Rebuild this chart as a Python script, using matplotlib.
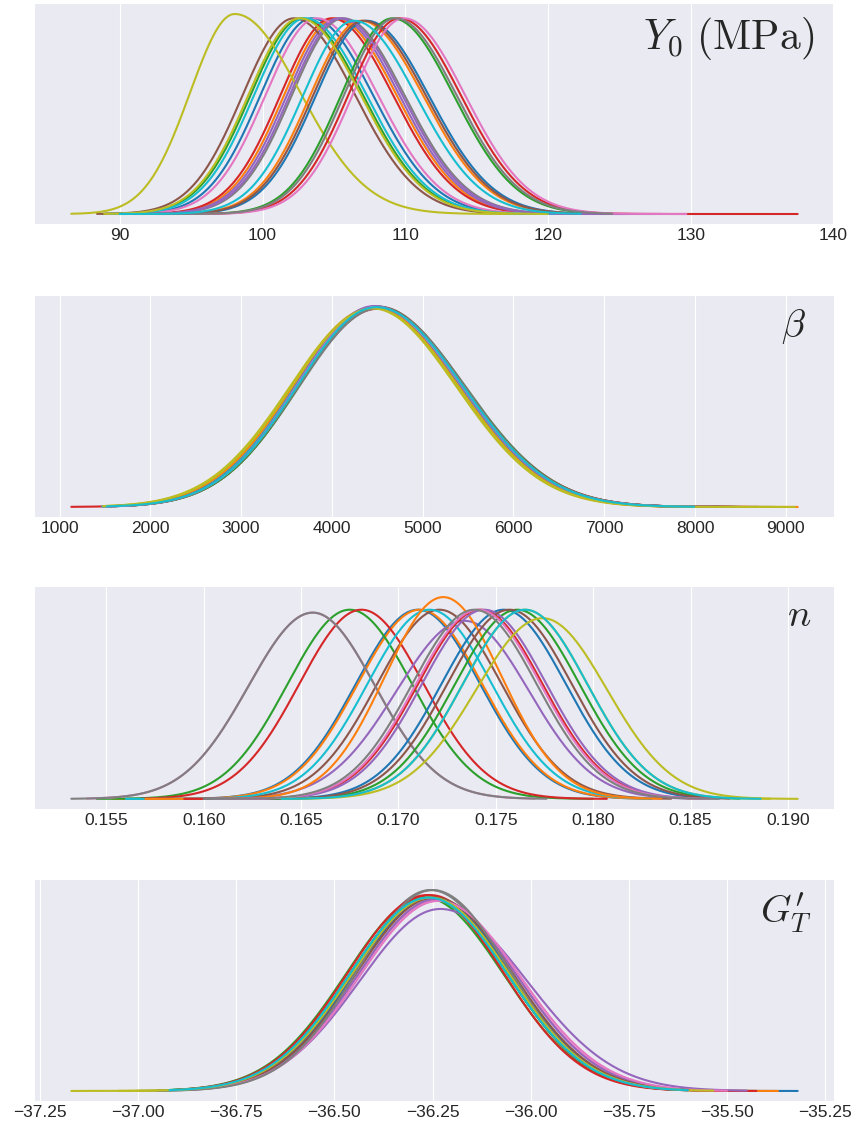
import numpy as np
import matplotlib.pyplot as plt

plt.style.use('seaborn-v0_8-darkgrid')
plt.rcParams['mathtext.fontset'] = 'cm'

# ---- Panel 1: Y0 (MPa) : per-chain mode, left/right spread, sample range ----
y0_mode = [103.45, 105.1, 102.75, 104.85, 105.3, 102.2, 103.8, 105.65, 98.05, 103.0,
           107.3, 106.9, 109.1, 109.6, 105.5, 107.1, 109.9, 109.3, 102.6, 106.4]
y0_slo = [3.6] * 8 + [3.13, 3.6] + [3.6] * 10
y0_shi = [4.3] * 8 + [4.6, 4.3] + [4.4, 4.4, 4.3, 4.3, 4.3, 4.4, 4.3, 4.3, 4.3, 4.4]
y0_lo = [89.0, 89.3, 88.8, 89.6, 89.8, 88.4, 89.2, 90.2, 86.6, 89.3,
         91.0, 90.8, 93.0, 94.0, 90.5, 91.5, 93.5, 92.5, 88.9, 90.0]
y0_hi = [121.0, 121.5, 119.5, 121.0, 123.0, 119.0, 125.7, 121.8, 118.0, 120.5,
         122.0, 122.5, 123.5, 137.5, 128.0, 122.0, 129.7, 124.5, 120.0, 122.3]

# ---- Panel 2: beta ----
b_mode = [4470, 4460, 4490, 4500, 4480, 4510, 4490, 4520, 4440, 4470,
          4480, 4450, 4500, 4490, 4470, 4500, 4480, 4510, 4450, 4490]
b_slo = [870, 880, 860, 875, 865, 870, 860, 880, 900, 870,
         870, 885, 865, 870, 860, 875, 865, 880, 895, 870]
b_shi = [950, 940, 955, 960, 950, 945, 960, 950, 930, 945,
         950, 940, 955, 955, 950, 950, 955, 945, 935, 950]
b_lo = [1480, 1700, 1600, 1130, 1550, 1800, 1650, 1750, 1500, 1470,
        1600, 1900, 1700, 1550, 1620, 1750, 1600, 1800, 1480, 1520]
b_hi = [8300, 9130, 8200, 8700, 8400, 8500, 8300, 8850, 9100, 8000,
        8100, 8600, 8250, 8400, 8300, 8450, 8200, 8500, 8900, 7990]

# ---- Panel 3: n ----
n_mode = [0.1710, 0.1711, 0.1675, 0.1681, 0.1734, 0.1721, 0.1656, 0.1656, 0.1765, 0.1716,
          0.1754, 0.1723, 0.1761, 0.1742, 0.1744, 0.1757, 0.1741, 0.1739, 0.1774, 0.1765]
n_slo = [0.0032, 0.0032, 0.0032, 0.0032, 0.0035, 0.0032, 0.0033, 0.0033, 0.0032, 0.0032,
         0.0032, 0.0030, 0.0032, 0.0032, 0.0032, 0.0032, 0.0032, 0.0032, 0.0034, 0.0032]
n_shi = [0.0032, 0.0032, 0.0032, 0.0032, 0.0033, 0.0032, 0.0032, 0.0032, 0.0032, 0.0032,
         0.0032, 0.0030, 0.0032, 0.0032, 0.0032, 0.0032, 0.0032, 0.0032, 0.0033, 0.0032]
n_lo = [0.1558, 0.1553, 0.1545, 0.1568, 0.1590, 0.1580, 0.1540, 0.1532, 0.1620, 0.1560,
        0.1600, 0.1570, 0.1610, 0.1590, 0.1600, 0.1640, 0.1605, 0.1600, 0.1640, 0.1640]
n_hi = [0.1830, 0.1828, 0.1800, 0.1807, 0.1850, 0.1840, 0.1770, 0.1776, 0.1891, 0.1830,
        0.1865, 0.1835, 0.1875, 0.1855, 0.1858, 0.1870, 0.1860, 0.1864, 0.1905, 0.1886]

# ---- Panel 4: G'_T ----
g_mode = [-36.25, -36.26, -36.27, -36.255, -36.23, -36.25, -36.24, -36.255, -36.26, -36.26,
          -36.25, -36.255, -36.26, -36.265, -36.24, -36.245, -36.235, -36.25, -36.255, -36.26]
g_slo = [0.20, 0.20, 0.20, 0.20, 0.205, 0.20, 0.20, 0.19, 0.20, 0.20,
         0.20, 0.20, 0.20, 0.20, 0.20, 0.20, 0.20, 0.19, 0.20, 0.20]
g_shi = [0.20, 0.20, 0.20, 0.195, 0.22, 0.20, 0.205, 0.195, 0.20, 0.20,
         0.20, 0.20, 0.20, 0.195, 0.203, 0.20, 0.207, 0.195, 0.20, 0.20]
g_lo = [-36.90, -36.88, -36.92, -36.95, -36.85, -36.90, -36.88, -37.00, -37.17, -36.93,
        -36.89, -36.87, -36.91, -36.90, -36.86, -36.89, -36.87, -36.95, -37.05, -36.92]
g_hi = [-35.32, -35.37, -35.60, -35.425, -35.45, -35.58, -35.50, -35.60, -35.535, -35.60,
        -35.62, -35.62, -35.61, -35.63, -35.62, -35.60, -35.62, -35.61, -35.62, -35.60]

labels = [r'$Y_0\ \mathrm{(MPa)}$', r'$\beta$', r'$n$', r"$G^{\prime}_T$"]
label_x = [0.975, 0.965, 0.972, 0.972]
label_size = [30, 28, 28, 28]
ticks = [[90, 100, 110, 120, 130, 140],
         [1000, 2000, 3000, 4000, 5000, 6000, 7000, 8000, 9000],
         [0.155, 0.160, 0.165, 0.170, 0.175, 0.180, 0.185, 0.190],
         [-37.25, -37.00, -36.75, -36.50, -36.25, -36.00, -35.75, -35.50, -35.25]]
tick_fmt = ['{:.0f}', '{:.0f}', '{:.3f}', '{:.2f}']

panels = [(y0_mode, y0_slo, y0_shi, y0_lo, y0_hi),
          (b_mode, b_slo, b_shi, b_lo, b_hi),
          (n_mode, n_slo, n_shi, n_lo, n_hi),
          (g_mode, g_slo, g_shi, g_lo, g_hi)]


def two_piece(x, m, sl, sr):
    s = np.where(x < m, sl, sr)
    return 2.0 / (np.sqrt(2 * np.pi) * (sl + sr)) * np.exp(-0.5 * ((x - m) / s) ** 2)


fig = plt.figure(figsize=(8.58, 11.33), dpi=100)
W, H = 858.0, 1133.0
tops = [4, 296, 587, 880]
bottoms = [224, 517, 809, 1101]
left, right = 35, 834

for i, (modes, slo, shi, lo, hi) in enumerate(panels):
    ax = fig.add_axes([left / W, 1 - bottoms[i] / H, (right - left) / W, (bottoms[i] - tops[i]) / H])
    for k in range(len(modes)):
        x = np.linspace(lo[k], hi[k], 500)
        ax.plot(x, two_piece(x, modes[k], slo[k], shi[k]), color='C%d' % (k % 10), lw=1.5)
    ax.set_yticks([])
    ax.set_xticks(ticks[i])
    ax.set_xticklabels([tick_fmt[i].format(t).replace('-', '\u2212') for t in ticks[i]], fontsize=12.5)
    ax.tick_params(axis='x', colors='0.15', pad=3)
    ax.text(label_x[i], 0.95, labels[i], transform=ax.transAxes, ha='right', va='top',
            fontsize=label_size[i])

fig.savefig('out.png', dpi=100)
